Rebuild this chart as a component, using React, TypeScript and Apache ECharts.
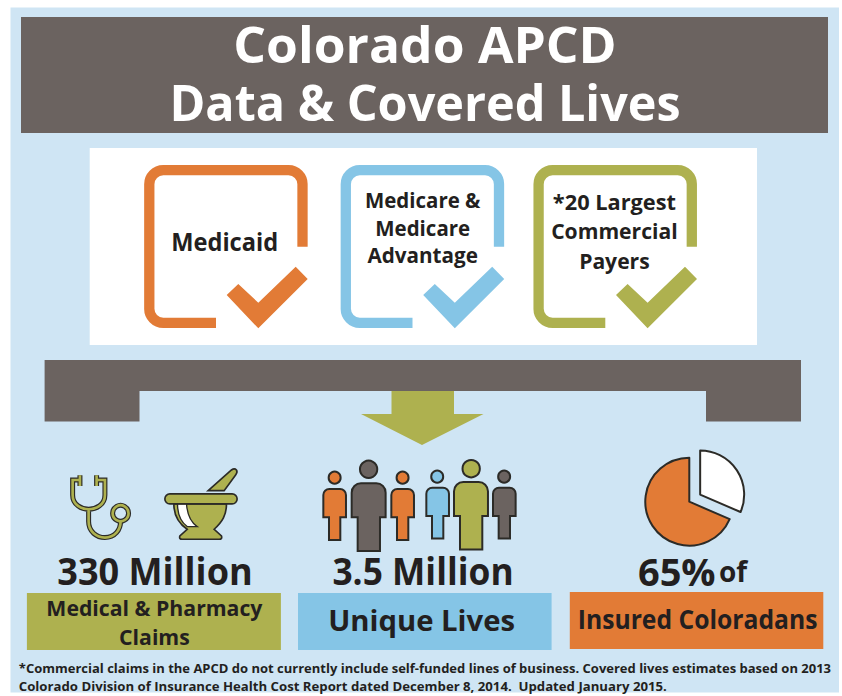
import React, { useEffect, useRef } from "react";
import * as echarts from "echarts";

const titleLines = ["Colorado APCD", "Data & Covered Lives"];
const sourceLabels = [["Medicaid"], ["Medicare &", "Medicare", "Advantage"], ["*20 Largest", "Commercial", "Payers"]];
const headlineValues = ["330 Million", "3.5 Million"];
const insuredHead = "65%";
const insuredTail = "of";
const claimsLabel = ["Medical & Pharmacy", "Claims"];
const livesLabel = "Unique Lives";
const insuredLabel = "Insured Coloradans";
const footnoteLines = [
  "*Commercial claims in the APCD do not currently include self-funded lines of business. Covered lives estimates based on 2013",
  "Colorado Division of Insurance Health Cost Report dated December 8, 2014.  Updated January 2015.",
];
const pieNames = ["Other", "Insured"];
const pieValues = [31.5, 68.5];

const BG = "#cfe5f4";
const BROWN = "#6b6360";
const ORANGE = "#e27b36";
const BLUE = "#85c5e6";
const GREEN = "#aeb14f";
const INK = "#231f20";
const LINE = "#2c2b27";
const FONT = "'Open Sans', sans-serif";

let registered = false;
function registerShapes() {
  if (registered) return;
  registered = true;
  const g: any = echarts.graphic;
  g.registerShape("bracket", g.extendPath("M302.5 246.7 V184.5 A14 14 0 0 0 288.5 170.2 H163.3 A14 14 0 0 0 149.3 184.5 V308.5 A14 14 0 0 0 163.3 322.8 H216", {}));
  g.registerShape("scope", g.extendPath("M150 106 V138 M150 120 H128 V165 C128 195 155 208 176 208 C198 208 225 195 225 165 V120 H200 M200 106 V138 M176 208 V245 C176 275 200 293 225 293 C255 293 272 270 272 245", {}));
  g.registerShape("mortarBody", g.extendPath("M432 192 C432 225 445 250 472 268 L450 288 Q447 298 457 298 H568 Q578 298 575 288 L553 268 C578 245 590 225 590 192 Z", {}));
  g.registerShape("mortarRim", g.extendPath("M420 162 H607 A15 15 0 0 1 607 192 H420 A15 15 0 0 1 420 162 Z", {}));
  g.registerShape("mortarGlint", g.extendPath("M443 192 H470 C472 220 480 245 502 260 H472 C452 245 443 220 443 192 Z", {}));
  g.registerShape("pestle", g.extendPath("M535 152 L605 90 Q614 83 620 90 Q624 96 618 104 L583 152 Z", {}));
  g.registerShape("personSmall", g.extendPath("M0 85 V18 A18 18 0 0 1 18 0 H50 A18 18 0 0 1 68 18 V85 H51 V153 H17 V85 Z", {}));
  g.registerShape("personBig", g.extendPath("M0 102 V28 A28 28 0 0 1 28 0 H74 A28 28 0 0 1 102 28 V102 H85 V203 H18 V102 Z", {}));
}

function label(text: string, x: number, y: number, fontSize: number, fill: string, sx = 1, weight: any = 700) {
  return {
    type: "text",
    x,
    y,
    scaleX: sx,
    style: { text, fontSize, fontWeight: weight, fontFamily: FONT, fill, textAlign: "center", textVerticalAlign: "middle" },
  };
}

function rect(x: number, y: number, width: number, height: number, fill: string) {
  return { type: "rect", shape: { x, y, width, height }, style: { fill } };
}

function person(kind: string, x: number, y: number, hx: number, hy: number, r: number, fill: string) {
  const stroke = { stroke: LINE, lineWidth: 6, fill };
  return [
    { type: kind, x, y, style: stroke },
    { type: "circle", shape: { cx: hx, cy: hy, r }, style: stroke },
  ];
}

function buildGraphic() {
  const boxes = [
    { color: ORANGE, dx: 0 },
    { color: BLUE, dx: 196.5 },
    { color: GREEN, dx: 389.3 },
  ];
  const labelPos = [
    { x: 224.7, ys: [241], size: 25, sx: [0.945] },
    { x: 422.7, ys: [199, 226.7, 254], size: 22, sx: [0.93, 0.93, 0.94] },
    { x: 614.4, ys: [201.7, 230.7, 260], size: 22, sx: [0.99, 0.96, 0.96] },
  ];
  const children: any[] = [
    rect(10.5, 7.5, 828.5, 685, BG),
    rect(21, 17, 807, 116, BROWN),
    label(titleLines[0], 425, 44, 50, "#ffffff", 1.03),
    label(titleLines[1], 425, 101, 50, "#ffffff", 0.971),
    rect(89.7, 148, 667.3, 197, "#ffffff"),
  ];
  boxes.forEach((b, i) => {
    children.push({ type: "bracket", x: b.dx, y: 0, style: { stroke: b.color, lineWidth: 10.3, fill: "none" } });
    children.push({
      type: "polygon",
      shape: { points: [[226.7 + b.dx, 295], [238.3 + b.dx, 284], [258.3 + b.dx, 302.7], [295.7 + b.dx, 266.7], [307.7 + b.dx, 279], [258.3 + b.dx, 328.3]] },
      style: { fill: b.color },
    });
    sourceLabels[i].forEach((t, j) => children.push(label(t, labelPos[i].x, labelPos[i].ys[j], labelPos[i].size, INK, labelPos[i].sx[j])));
  });
  children.push(
    { type: "polygon", shape: { points: [[44.6, 360], [801, 360], [801, 421.5], [706, 421.5], [706, 391], [139.5, 391], [139.5, 421.5], [44.6, 421.5]] }, style: { fill: BROWN } },
    { type: "polygon", shape: { points: [[391.5, 391], [454, 391], [454, 414], [483.5, 414], [422, 445], [361, 414], [391.5, 414]] }, style: { fill: GREEN } },
  );
  // stethoscope and mortar, drawn at 3x and scaled down
  children.push({
    type: "group",
    x: 30,
    y: 440,
    scaleX: 1 / 3,
    scaleY: 1 / 3,
    children: [
      { type: "scope", style: { stroke: LINE, lineWidth: 15, fill: "none" } },
      { type: "circle", shape: { cx: 272, cy: 220, r: 24 }, style: { stroke: LINE, lineWidth: 15, fill: "none" } },
      { type: "scope", style: { stroke: GREEN, lineWidth: 8, fill: "none" } },
      { type: "circle", shape: { cx: 272, cy: 220, r: 24 }, style: { stroke: GREEN, lineWidth: 8, fill: "none" } },
      { type: "pestle", style: { stroke: LINE, lineWidth: 5, fill: GREEN } },
      { type: "mortarBody", style: { stroke: LINE, lineWidth: 5, fill: GREEN } },
      { type: "mortarGlint", style: { stroke: LINE, lineWidth: 4, fill: "#ffffff" } },
      { type: "mortarRim", style: { stroke: LINE, lineWidth: 5, fill: GREEN } },
    ],
  });
  children.push({
    type: "group",
    x: 310,
    y: 440,
    scaleX: 1 / 3,
    scaleY: 1 / 3,
    children: [
      ...person("personSmall", 40, 147, 74, 113, 18, ORANGE),
      ...person("personBig", 125, 130, 176, 88, 26, BROWN),
      ...person("personSmall", 244, 147, 278, 113, 18, ORANGE),
      ...person("personSmall", 349, 143, 382, 110, 18, BLUE),
      ...person("personBig", 432, 126, 484, 86, 26, GREEN),
      ...person("personSmall", 549, 143, 583, 110, 18, BROWN),
    ],
  });
  children.push(
    label(headlineValues[0], 155, 570.5, 38, INK, 0.95),
    label(headlineValues[1], 423, 570.5, 38, INK, 0.93),
    {
      type: "text",
      x: 692.5,
      y: 571,
      scaleX: 1,
      style: {
        text: `{a|${insuredHead}} {b|${insuredTail}}`,
        textAlign: "center",
        textVerticalAlign: "middle",
        rich: {
          a: { fontSize: 38, fontWeight: 700, fontFamily: FONT, fill: INK, color: INK },
          b: { fontSize: 28, fontWeight: 700, fontFamily: FONT, fill: INK, color: INK },
        },
      },
    },
    rect(26.9, 593, 254, 57, GREEN),
    rect(298, 593, 253.6, 57, BLUE),
    rect(569.8, 592, 253.5, 57, ORANGE),
    label(claimsLabel[0], 154.4, 607, 22, INK, 0.966),
    label(claimsLabel[1], 154.4, 636, 22, INK, 0.966),
    label(livesLabel, 421.6, 620.5, 29, INK, 1.01),
    label(insuredLabel, 697.6, 619, 26, INK, 0.95),
  );
  footnoteLines.forEach((t, i) =>
    children.push({
      type: "text",
      x: 18.8,
      y: i === 0 ? 667.5 : 686,
      scaleX: i === 0 ? 1 : 1.015,
      style: { text: t, fontSize: 13, fontWeight: 700, fontFamily: FONT, fill: INK, textAlign: "left", textVerticalAlign: "middle" },
    }),
  );
  return { elements: children };
}

export default function App() {
  const ref = useRef<HTMLDivElement>(null);
  useEffect(() => {
    registerShapes();
    const chart = echarts.init(ref.current!, undefined, { renderer: "svg" });
    chart.setOption({
      animation: false,
      backgroundColor: "#ffffff",
      graphic: buildGraphic(),
      series: [
        {
          type: "pie",
          center: [689.3, 501.7],
          radius: [0, 44],
          startAngle: 90,
          clockwise: true,
          selectedMode: "multiple",
          selectedOffset: 13,
          label: { show: false },
          labelLine: { show: false },
          silent: true,
          itemStyle: { borderColor: LINE, borderWidth: 2 },
          data: [
            { name: pieNames[0], value: pieValues[0], selected: true, itemStyle: { color: "#ffffff" } },
            { name: pieNames[1], value: pieValues[1], itemStyle: { color: ORANGE } },
          ],
        },
      ],
    });
    return () => chart.dispose();
  }, []);
  return <div ref={ref} style={{ position: "fixed", left: 0, top: 0, width: 842, height: 696 }} />;
}
